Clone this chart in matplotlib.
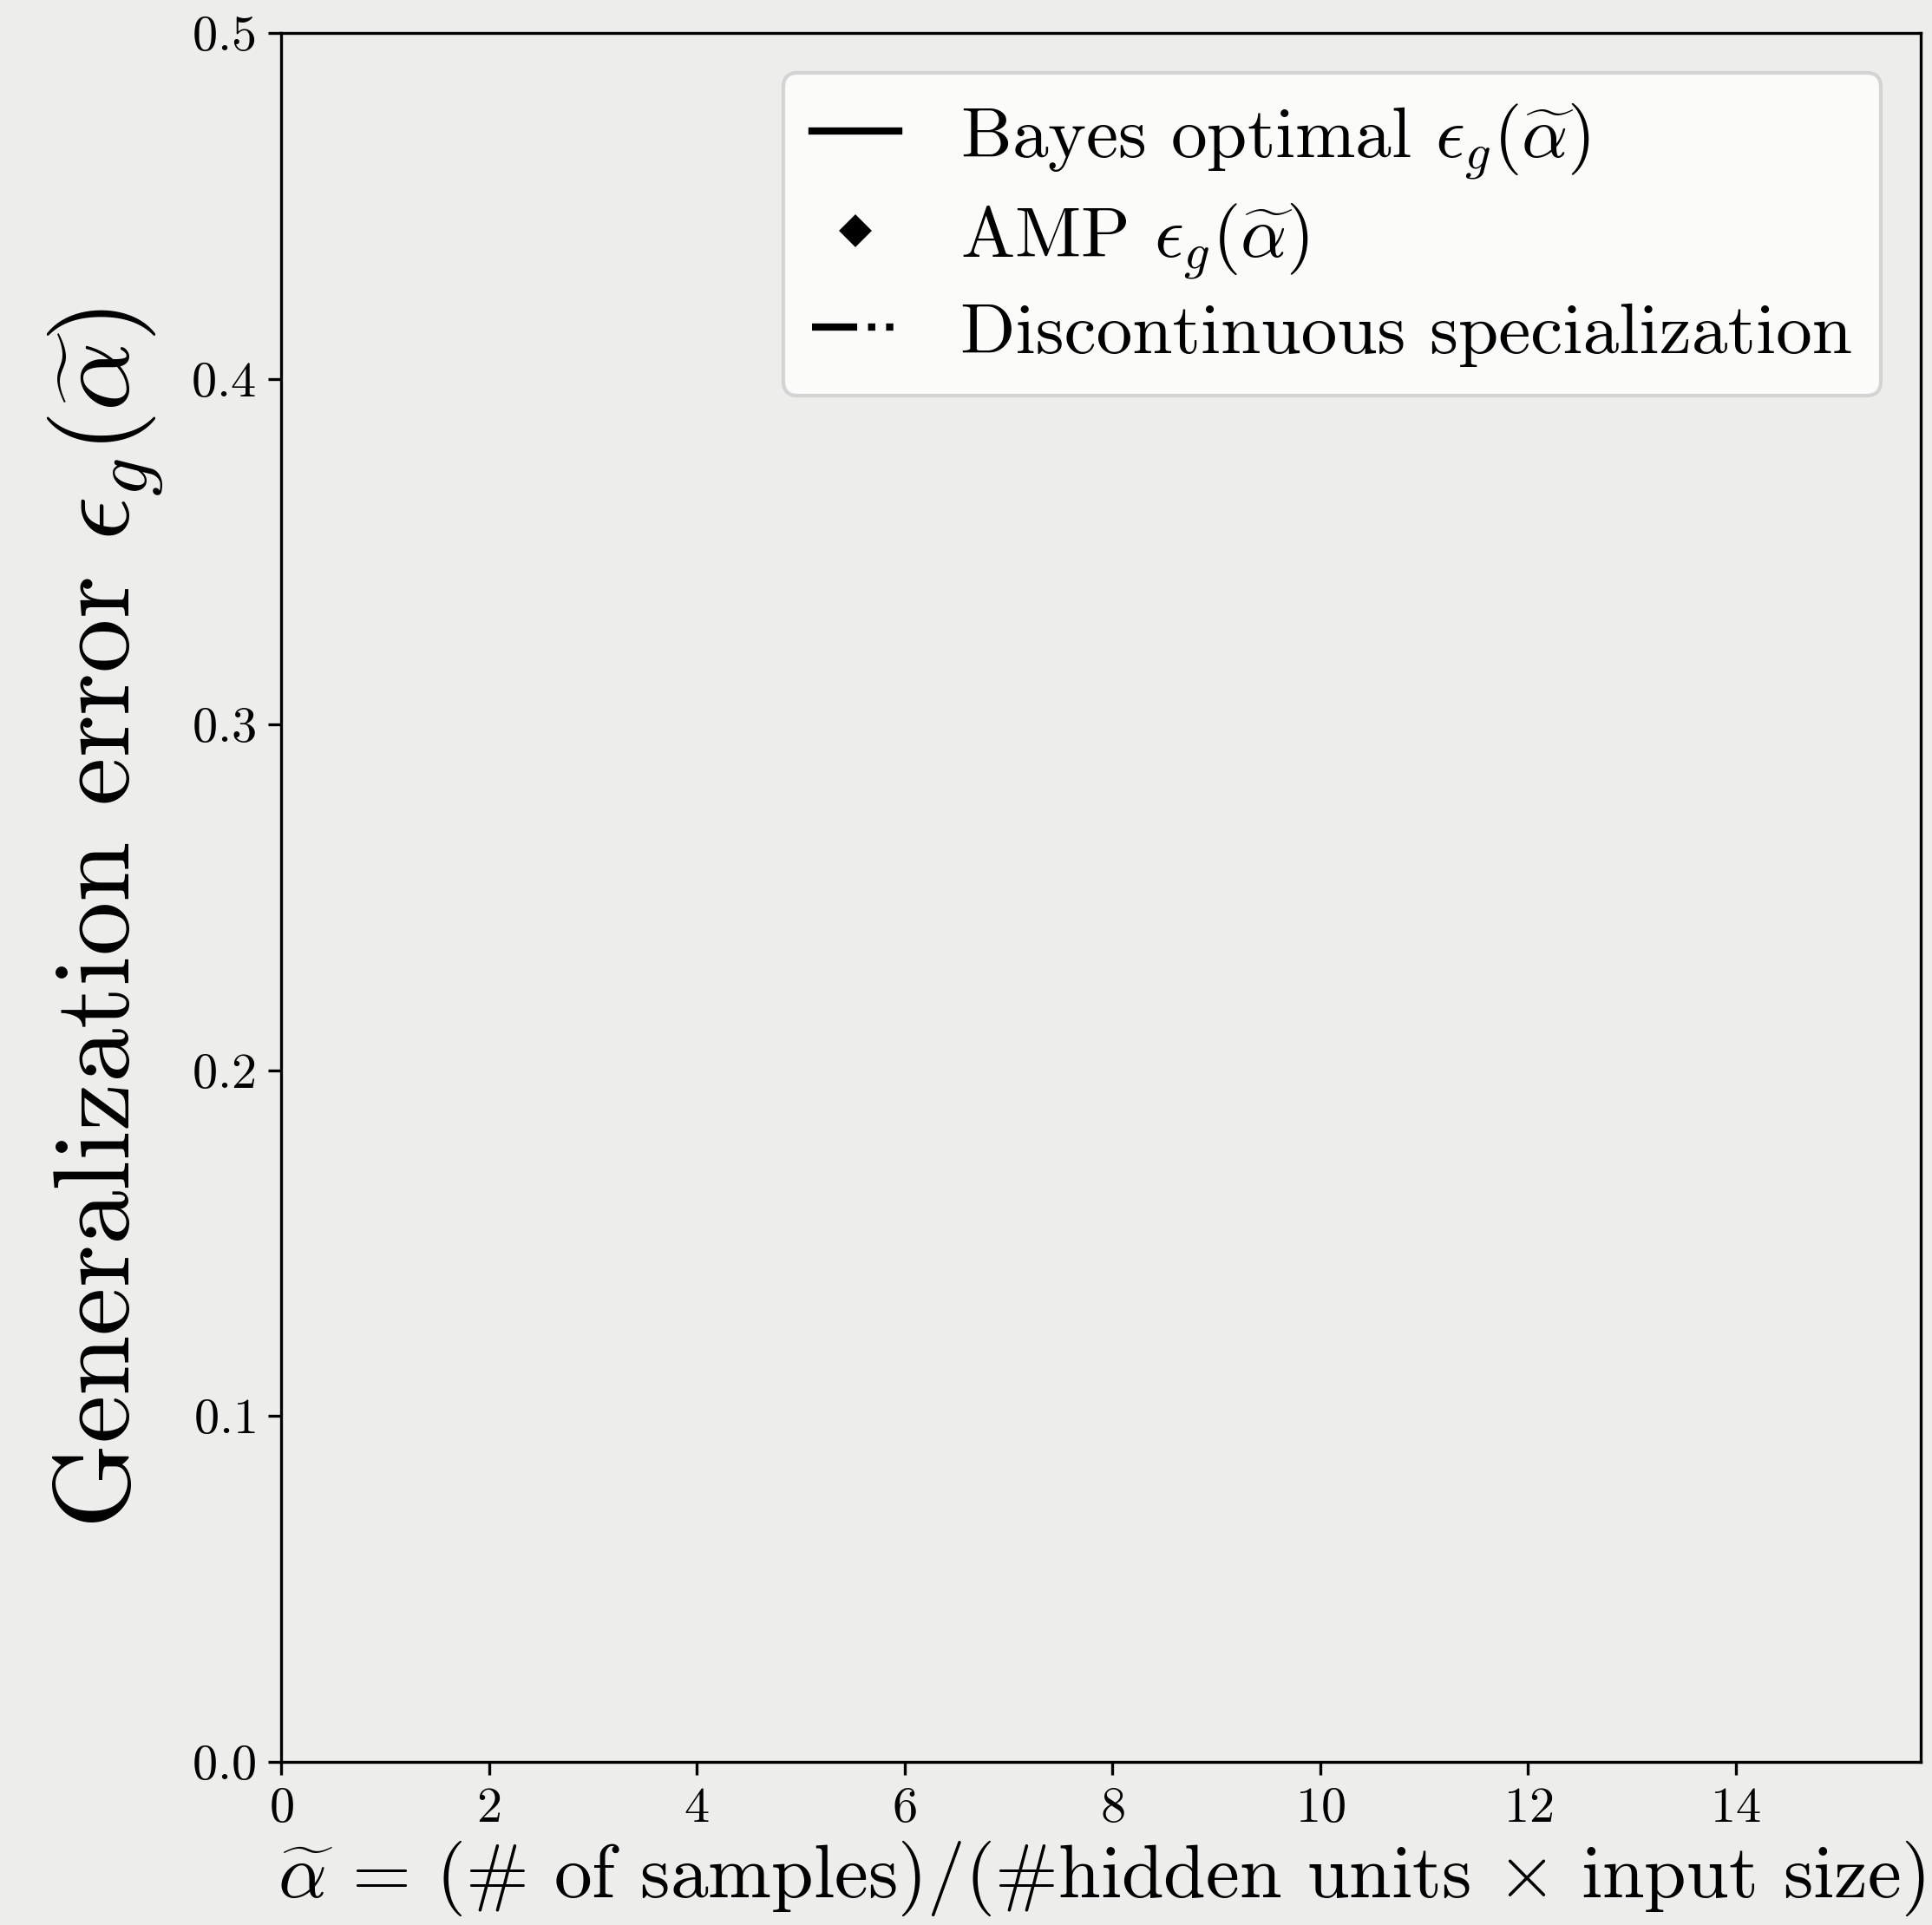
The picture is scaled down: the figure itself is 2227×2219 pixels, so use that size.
import matplotlib
matplotlib.use("Agg")
import matplotlib.pyplot as plt

# legend entries (no curves are drawn in the figure itself)
labels = [r"Bayes optimal $\epsilon_g(\widetilde{\alpha})$",
          r"AMP $\epsilon_g(\widetilde{\alpha})$",
          "Discontinuous specialization"]
x_lim = (0, 15.78)
y_lim = (0, 0.5)
x_ticks = [0, 2, 4, 6, 8, 10, 12, 14]
y_ticks = [0.0, 0.1, 0.2, 0.3, 0.4, 0.5]

plt.rcParams['font.family'] = 'serif'
plt.rcParams['font.serif'] = ['cmr10']
plt.rcParams['mathtext.fontset'] = 'cm'
plt.rcParams['axes.formatter.use_mathtext'] = True
plt.rcParams['axes.unicode_minus'] = False

bg = '#ededeb'
fig = plt.figure(figsize=(2227 / 300, 2219 / 300), dpi=300, facecolor=bg)
ax = fig.add_axes([324 / 2227, 1 - 2031 / 2219, (2214 - 324) / 2227, (2031 - 38) / 2219])
ax.set_facecolor(bg)

ax.plot([], [], '-', color='k', lw=2, label=labels[0])
ax.plot([], [], 'D', color='k', ms=5.5, ls='none', label=labels[1])
ax.plot([], [], color='k', lw=2, ls=(0, (6.25, 1.5, 1, 1.5, 1, 1.5)), label=labels[2])

ax.set_xlim(*x_lim)
ax.set_ylim(*y_lim)
ax.set_xticks(x_ticks)
ax.set_yticks(y_ticks)
ax.tick_params(labelsize=14)

ax.set_xlabel(r"$\widetilde{\alpha}$ = (# of samples)/(#hidden units $\times$ input size)",
              fontsize=21, labelpad=2)
ax.set_ylabel(r"Generalization error $\epsilon_g(\widetilde{\alpha})$", fontsize=30, labelpad=7)
ax.yaxis.label.set_y(0.488)

ax.legend(loc='upper right', fontsize=20, handlelength=1.2, handletextpad=0.85,
          labelspacing=0.3, borderaxespad=0.55)

fig.savefig('out.png', dpi=300, facecolor=bg)
